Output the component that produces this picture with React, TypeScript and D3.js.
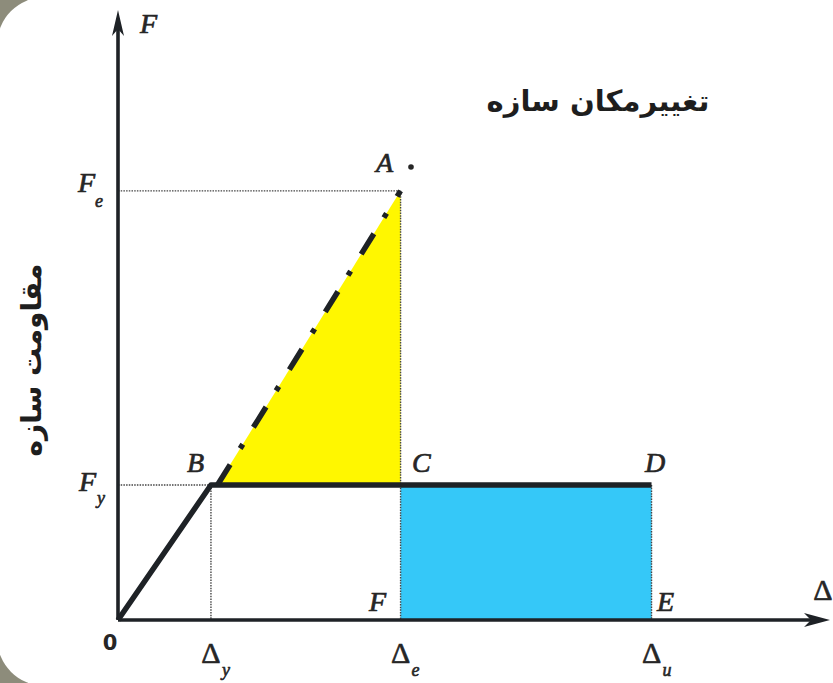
import React from "react";
import * as d3 from "d3";

// Key displacements (in units of Δy) and forces (in units of Fy)
const displacementKeys = ["0", "Δy", "Δe", "Δu"];
const displacementValues = [0, 1, 3.04, 5.74];
const forceKeys = ["0", "Fy", "Fe"];
const forceValues = [0, 1, 3.18];
const axisMax = { x: 7.66, y: 4.52 };

// Curve points: origin -> yield -> ultimate
const curveX = [0, 1, 5.74];
const curveY = [0, 1, 1];
// Elastic extension B -> A
const elasticX = [1.07, 3.04];
const elasticY = [1, 3.18];

const title = "تغییرمکان سازه";
const yTitle = "مقاومت سازه";

const W = 833;
const H = 683;

export default function App() {
  const x = d3.scaleLinear().domain([0, axisMax.x]).range([118, 830]);
  const y = d3.scaleLinear().domain([0, axisMax.y]).range([620, 10]);
  const [, dy, de, du] = displacementValues;
  const [, fy, fe] = forceValues;

  const line = d3.line<[number, number]>().x((d) => x(d[0])).y((d) => y(d[1]));
  const curve = line(curveX.map((v, i) => [v, curveY[i]] as [number, number]));
  const dashed = line(elasticX.map((v, i) => [v, elasticY[i]] as [number, number]));
  const tri = line([
    [elasticX[0], elasticY[0]],
    [elasticX[1], elasticY[1]],
    [de, fy],
  ]) + "Z";

  const ink = "#1e2226";
  const txt = "#262626";
  const serif = "'Liberation Serif', 'DejaVu Serif', serif";
  const lab = { fontFamily: serif, fontStyle: "italic" as const, fontSize: 28, fill: txt, stroke: txt, strokeWidth: 0.7 };
  const sub = { fontFamily: serif, fontStyle: "italic" as const, fontSize: 18, fill: txt, stroke: txt, strokeWidth: 0.6 };
  const delta = { fontFamily: serif, fontSize: 30, fill: txt, stroke: txt, strokeWidth: 0.6, textAnchor: "middle" as const };
  const dot = { stroke: "#444", strokeWidth: 1.4, strokeDasharray: "1.5 1.2", fill: "none" };

  return (
    <svg width={W} height={H} style={{ position: "absolute", left: 0, top: 0 }}>
      <rect x={0} y={0} width={W} height={H} fill="#8d8c7b" />
      <rect x={-3} y={-3} width={W + 60} height={H + 6} rx={48} ry={48} fill="#ffffff" />

      {/* fills */}
      <rect x={x(de)} y={y(fy)} width={x(du) - x(de)} height={y(0) - y(fy)} fill="#35c8f8" />
      <path d={tri} fill="#fff700" />

      {/* guide lines */}
      <line x1={x(0)} x2={x(de)} y1={y(fe)} y2={y(fe)} {...dot} />
      <line x1={x(0)} x2={x(dy)} y1={y(fy)} y2={y(fy)} {...dot} />
      <line x1={x(dy)} x2={x(dy)} y1={y(fy)} y2={y(0)} {...dot} />
      <line x1={x(de)} x2={x(de)} y1={y(fe)} y2={y(0)} {...dot} />
      <line x1={x(du)} x2={x(du)} y1={y(fy)} y2={y(0)} {...dot} />

      {/* axes */}
      <line x1={x(0)} x2={x(0)} y1={y(0)} y2={y(axisMax.y) + 12} stroke={ink} strokeWidth={3.6} />
      <path d={`M${x(0)},${y(axisMax.y)} L${x(0) - 6},${y(axisMax.y) + 26} L${x(0)},${y(axisMax.y) + 19} L${x(0) + 6},${y(axisMax.y) + 26} Z`} fill={ink} />
      <line x1={x(0)} x2={x(axisMax.x) - 12} y1={y(0)} y2={y(0)} stroke={ink} strokeWidth={3.6} />
      <path d={`M${x(axisMax.x)},${y(0)} L${x(axisMax.x) - 26},${y(0) - 7} L${x(axisMax.x) - 19},${y(0)} L${x(axisMax.x) - 26},${y(0) + 7} Z`} fill={ink} />

      {/* curve */}
      <path d={curve!} fill="none" stroke={ink} strokeWidth={5.5} strokeLinejoin="round" />
      <path d={dashed!} fill="none" stroke={ink} strokeWidth={5.5} strokeDasharray="24 19 5 20" />

      {/* axis labels */}
      <text x={140} y={33} {...lab}>F</text>
      <text x={78} y={192} {...lab}>F</text>
      <text x={95} y={207} {...sub}>e</text>
      <text x={79} y={491} {...lab}>F</text>
      <text x={97} y={504} {...sub}>y</text>
      <text x={110} y={650} textAnchor="middle" fontFamily="'DejaVu Sans', sans-serif" fontWeight="bold" fontSize={21} fill={txt}>0</text>

      {displacementKeys.slice(1).map((k, i) => {
        const xv = x(displacementValues[i + 1]);
        return (
          <g key={k}>
            <text x={xv} y={663} {...delta}>Δ</text>
            <text x={xv + 11} y={676} {...sub}>{k.slice(1)}</text>
          </g>
        );
      })}
      <text x={823} y={600} {...delta}>Δ</text>

      {/* point labels */}
      <text x={376} y={172} {...lab}>A</text>
      <circle cx={411} cy={167} r={2.8} fill={txt} />
      <text x={187} y={472} {...lab}>B</text>
      <text x={412} y={472} {...lab}>C</text>
      <text x={645} y={472} {...lab}>D</text>
      <text x={369} y={611} {...lab}>F</text>
      <text x={657} y={611} {...lab}>E</text>

      {/* Persian titles */}
      <text x={598} y={111} textAnchor="middle" fontFamily="'DejaVu Sans', sans-serif" fontWeight="bold" fontSize={29} fill="#1e1e1e" direction="rtl">{title}</text>
      <text transform="translate(41,360) rotate(-90)" textAnchor="middle" fontFamily="'DejaVu Sans', sans-serif" fontWeight="bold" fontSize={28} fill="#1e1e1e" direction="rtl">{yTitle}</text>
    </svg>
  );
}
